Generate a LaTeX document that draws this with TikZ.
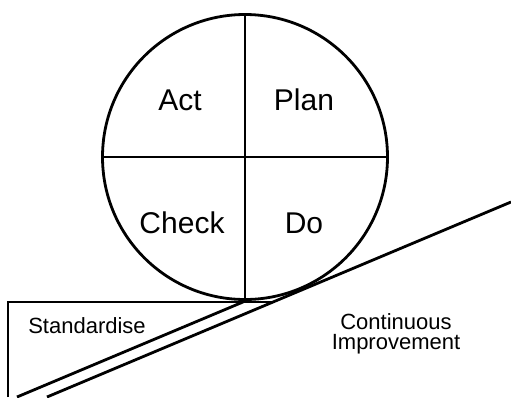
\documentclass[tikz,border=0pt]{standalone}
\usepackage{fontspec}
\setmainfont{Liberation Sans}
\begin{document}
\begin{tikzpicture}[x=1pt, y=-1pt, line width=2.8pt,
  every node/.style={font=\fontsize{30}{30}\selectfont, anchor=base},
  small/.style={font=\fontsize{22}{20}\selectfont, align=center},
  flat/.style={line width=2pt}]

\useasboundingbox (0,0) rectangle (511,397);

\node(ball)[circle, draw, minimum size=285pt, inner sep=0pt, outer sep=0pt, anchor=center] at (245,157) {};
\draw (ball.north) -- (ball.south);
\draw[flat] (ball.west) -- (ball.east);

\node(act) at (180,110) {Act};
\node(plan) at (304,110) {Plan};
\node(check) at (182,233) {Check};
\node(do) at (304,233) {Do};

\coordinate (w1) at (8,397);
\coordinate (w2) at (8,302);
\coordinate (w3) at (272,302);
\coordinate (tip) at (243,302);
\coordinate (foot) at (17,397);
\coordinate (s1) at (47,397);
\coordinate (s2) at (511,202);

\draw[flat] (w1) -- (w2) -- (w3);
\draw (tip) -- (foot);
\draw (s1) -- (s2);

\node(std)[small] at (87,333) {Standardise};
\node(ci)[small] at (396,349) {Continuous\\Improvement};

\end{tikzpicture}
\end{document}
